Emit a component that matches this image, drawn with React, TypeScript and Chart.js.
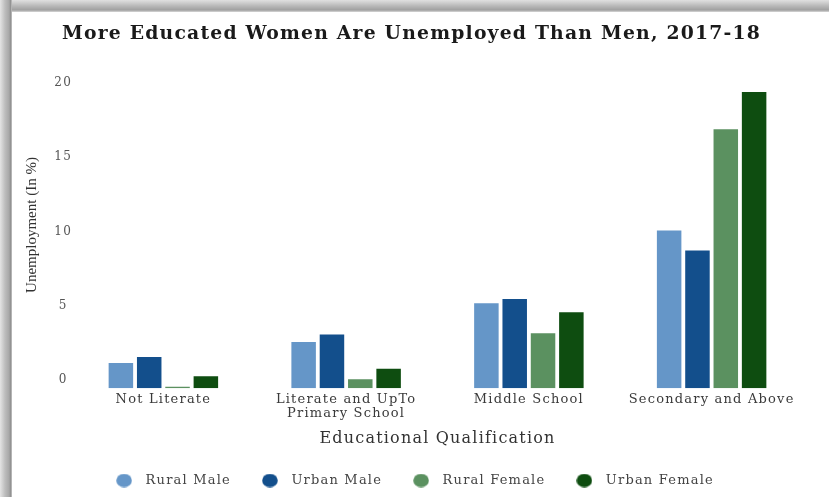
import React, { useEffect, useRef } from "react";
import { Chart, registerables } from "chart.js";

Chart.register(...registerables);

const categories = [["Not Literate"], ["Literate and UpTo", "Primary School"], ["Middle School"], ["Secondary and Above"]];
const seriesNames = ["Rural Male", "Urban Male", "Rural Female", "Urban Female"];
const ruralMale = [1.7, 3.1, 5.7, 10.6];
const urbanMale = [2.1, 3.6, 6.0, 9.25];
const ruralFemale = [0.1, 0.6, 3.7, 17.4];
const urbanFemale = [0.8, 1.3, 5.1, 19.9];
const seriesColors = ["#6596c8", "#134f8c", "#5b9160", "#0e4d10"];
const yTickValues = [0, 5, 10, 15, 20];
const chartTitle = "More Educated Women Are Unemployed Than Men, 2017-18";
const xTitle = "Educational Qualification";
const yTitle = "Unemployment (In %)";

const SERIF = "'DejaVu Serif', 'Liberation Serif', serif";
const SPACING = "1.2px";

function makeDot(color: string): HTMLCanvasElement {
  const c = document.createElement("canvas");
  c.width = 16;
  c.height = 14;
  const g = c.getContext("2d")!;
  g.fillStyle = color;
  g.beginPath();
  g.ellipse(8, 7, 7.8, 6.8, 0, 0, Math.PI * 2);
  g.fill();
  return c;
}

const spacingPlugin = {
  id: "letterSpacing",
  beforeLayout(chart: any) {
    chart.ctx.letterSpacing = SPACING;
  },
  beforeDraw(chart: any) {
    chart.ctx.letterSpacing = SPACING;
  },
};

const yTitlePlugin = {
  id: "yTitleText",
  afterDraw(chart: any) {
    const ctx = chart.ctx;
    ctx.save();
    ctx.letterSpacing = "0px";
    ctx.translate(32, 225);
    ctx.rotate(-Math.PI / 2);
    ctx.font = "15px 'Liberation Serif', serif";
    ctx.fillStyle = "#333";
    ctx.textAlign = "center";
    ctx.textBaseline = "middle";
    ctx.fillText(yTitle, 0, 0);
    ctx.restore();
  },
};

export default function App() {
  const ref = useRef<HTMLCanvasElement | null>(null);

  useEffect(() => {
    document.body.style.margin = "0";
    const canvas = ref.current;
    if (!canvas) return;
    const values = [ruralMale, urbanMale, ruralFemale, urbanFemale];
    const dots = seriesColors.map(makeDot);
    const chart = new Chart(canvas, {
      type: "bar",
      plugins: [spacingPlugin, yTitlePlugin],
      data: {
        labels: categories,
        datasets: values.map((v, i) => ({
          label: seriesNames[i],
          data: v,
          backgroundColor: seriesColors[i],
          borderWidth: 0,
          barPercentage: 0.865,
          categoryPercentage: 0.62,
        })),
      },
      options: {
        animation: false,
        responsive: false,
        maintainAspectRatio: false,
        layout: { padding: { left: 20, right: 26, top: 0, bottom: 0 } },
        plugins: {
          title: {
            display: true,
            text: chartTitle,
            font: { family: SERIF, size: 18.8, weight: "bold" },
            color: "#1a1a1a",
            padding: { top: 23, bottom: 45 },
          },
          legend: {
            position: "bottom",
            labels: {
              usePointStyle: true,
              boxHeight: 13,
              pointStyleWidth: 30,
              font: { family: SERIF, size: 13 },
              color: "#444",
              padding: 24,
              generateLabels: (c: any) => {
                const items = Chart.defaults.plugins.legend.labels.generateLabels(c);
                return items.map((it: any, i: number) => ({ ...it, pointStyle: dots[i] }));
              },
            },
          },
          tooltip: { enabled: false },
        },
        scales: {
          x: {
            grid: { display: false, drawTicks: false },
            border: { display: false },
            ticks: {
              font: { family: SERIF, size: 13, lineHeight: 1.1 },
              color: "#3a3a3a",
              padding: 4,
              maxRotation: 0,
              autoSkip: false,
            },
            title: {
              display: true,
              text: xTitle,
              font: { family: SERIF, size: 16 },
              color: "#333",
              padding: { top: 4, bottom: 2 },
            },
          },
          y: {
            min: 0,
            max: 20,
            grid: { display: false, drawTicks: false },
            border: { display: false },
            afterBuildTicks: (scale: any) => {
              scale.ticks = yTickValues.map((v) => ({ value: v }));
            },
            afterFit: (scale: any) => {
              scale.width = 52;
            },
            ticks: {
              labelOffset: -8,
              crossAlign: "center",
              padding: 0,
              font: { family: SERIF, size: 12 },
              color: "#555",
            },
            title: { display: false },
          },
        },
      },
    });
    return () => chart.destroy();
  }, []);

  return (
    <div style={{ position: "relative", width: 829, height: 497, background: "#fff", overflow: "hidden" }}>
      <canvas ref={ref} width={829} height={497} style={{ position: "absolute", left: 0, top: 0 }} />
      <div
        style={{
          position: "absolute",
          left: 0,
          top: 0,
          width: 829,
          height: 12,
          background: "linear-gradient(to bottom, #e0e0e0 0px, #b8b8b8 6px, #a0a0a0 10px, #d8d8d8 12px)",
          pointerEvents: "none",
        }}
      />
      <div
        style={{
          position: "absolute",
          left: 0,
          top: 0,
          width: 12,
          height: 497,
          background: "linear-gradient(to right, #e4e4e4 0px, #bdbdbd 5px, #a8a8a8 9px, #8c8c8c 11px, #dcdcdc 12px)",
          pointerEvents: "none",
        }}
      />
    </div>
  );
}
